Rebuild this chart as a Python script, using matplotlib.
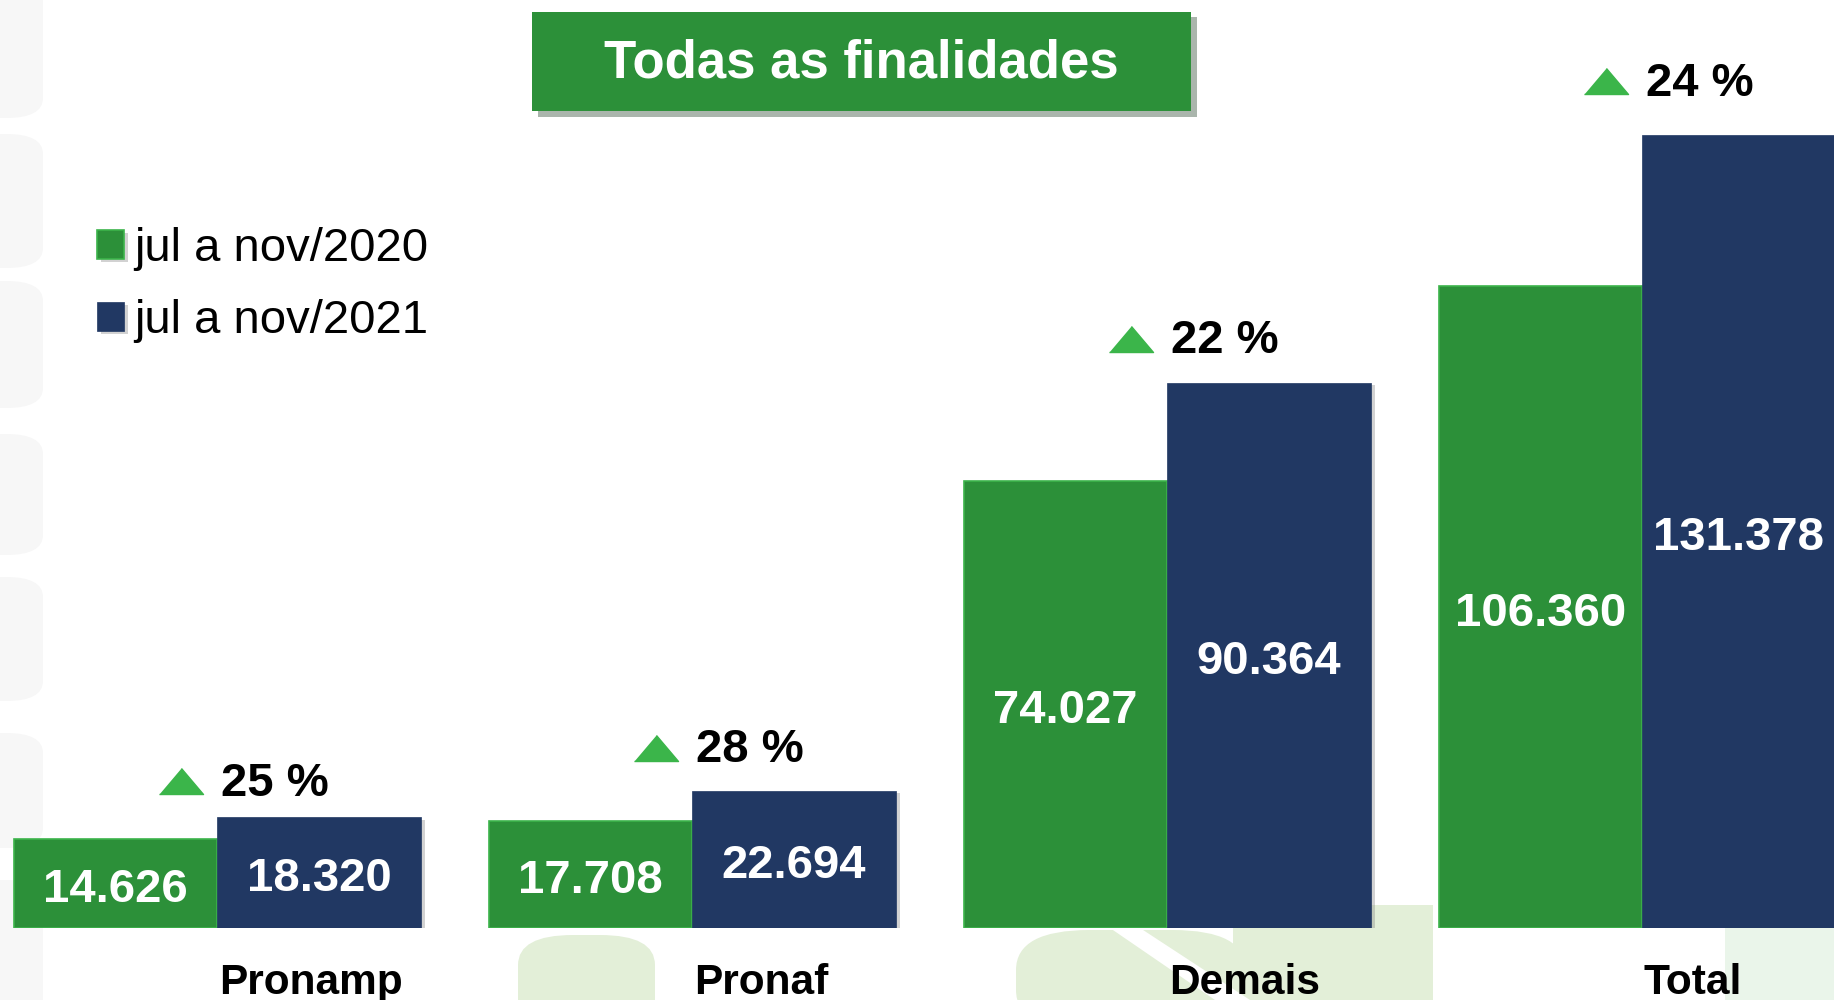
import matplotlib

matplotlib.use("Agg")
import matplotlib.pyplot as plt
import matplotlib.patheffects as pe
import matplotlib.transforms as mtransforms
from matplotlib.patches import FancyBboxPatch, Rectangle, Polygon
import numpy as np

# data (thousands, values as printed on the slide)
categories = ["Pronamp", "Pronaf", "Demais", "Total"]
series_names = ["jul a nov/2020", "jul a nov/2021"]
values_2020 = [14626, 17708, 74027, 106360]
values_2021 = [18320, 22694, 90364, 131378]
growth_pct = [25, 28, 22, 24]

# layout: how far (px) each growth label sits above its 2021 bar
growth_lift_px = [36, 43, 44, 54]

GREEN = "#2c9039"
GREEN_EDGE = "#3cb44b"
BLUE = "#213863"
TRI_GREEN = "#3bb54a"
FONT = ["Liberation Sans", "DejaVu Sans"]

W, H = 1834, 1000
fig = plt.figure(figsize=(W / 100, H / 100), dpi=100)
fig.patch.set_facecolor("white")


def fx(px):
    return px / W


def fy(py):
    # py measured from top of the image
    return 1 - py / H


# faint watermark shapes in the background
for top, bot in [(-20, 118), (134, 268), (281, 408), (434, 555),
                 (577, 701), (733, 848), (880, 1020)]:
    fig.patches.append(FancyBboxPatch(
        (fx(-40), fy(bot)), fx(83), (bot - top) / H,
        boxstyle="round,pad=0,rounding_size=0.02", transform=fig.transFigure,
        facecolor="#f7f7f7", edgecolor="none", zorder=-5))
leaf = "#e3efd8"
fig.patches.append(FancyBboxPatch(
    (fx(518), fy(1030)), fx(137), 95 / H,
    boxstyle="round,pad=0,rounding_size=0.03", transform=fig.transFigure,
    facecolor=leaf, edgecolor="none", zorder=-5))
fig.patches.append(Rectangle((fx(1233), fy(1000)), fx(200), 95 / H,
                             transform=fig.transFigure, facecolor=leaf,
                             edgecolor="none", zorder=-5))
fig.patches.append(FancyBboxPatch(
    (fx(1016), fy(1030)), fx(230), 100 / H,
    boxstyle="round,pad=0,rounding_size=0.04", transform=fig.transFigure,
    facecolor=leaf, edgecolor="none", zorder=-5))
fig.patches.append(Polygon([(fx(1110), fy(928)), (fx(1140), fy(928)),
                            (fx(1250), fy(1000)), (fx(1215), fy(1000))],
                           closed=True, transform=fig.transFigure,
                           facecolor="white", edgecolor="none", zorder=-4))
fig.patches.append(Rectangle((fx(1725), fy(1000)), fx(110), 75 / H,
                             transform=fig.transFigure, facecolor="#eaf5ea",
                             edgecolor="none", zorder=-5))

# main axes: bottom edge sits on the bar baseline
ax = fig.add_axes([0, fy(927.5), 1, 927.5 / H])
ax.patch.set_visible(False)
for s in ax.spines.values():
    s.set_visible(False)
ax.set_xticks([])
ax.set_yticks([])

x = np.arange(len(categories))
width = 0.4285
ax.set_xlim(-0.458, 3.404)
ax.set_ylim(0, 153800)

shadow = [pe.SimplePatchShadow(offset=(3, -2), shadow_rgbFace="#808080", alpha=0.35), pe.Normal()]
bars20 = ax.bar(x - width / 2, values_2020, width, color=GREEN,
                edgecolor=GREEN_EDGE, linewidth=1.2, label=series_names[0])
bars21 = ax.bar(x + width / 2, values_2021, width, color=BLUE,
                edgecolor=BLUE, linewidth=0.5, label=series_names[1])
for b in list(bars20) + list(bars21):
    b.set_path_effects(shadow)
for b in bars20:
    b.set_zorder(2)
for b in bars21:
    b.set_zorder(3)


def fmt_br(v):
    return f"{v:,}".replace(",", ".")


for bars, vals in [(bars20, values_2020), (bars21, values_2021)]:
    ax.bar_label(bars, labels=[fmt_br(v) for v in vals], label_type="center",
                 padding=-5, color="white", fontsize=34, fontweight="bold",
                 family=FONT, zorder=6)

# growth labels above the 2021 bars
tri = [(-22, -13), (22, -13), (0, 13)]
for xi, v, g, lift in zip(x, values_2021, growth_pct, growth_lift_px):
    ax.annotate(f"{g} %", (xi, v), xytext=(4 * 0.72, (lift - 2.5) * 0.72),
                textcoords="offset points", ha="left", va="center",
                fontsize=34, fontweight="bold", family=FONT, color="black",
                annotation_clip=False)
    shift = mtransforms.ScaledTranslation(-36 / 100, lift / 100, fig.dpi_scale_trans)
    ax.plot([xi], [v], marker=tri, markersize=31.7, color=TRI_GREEN,
            linestyle="none", clip_on=False, transform=ax.transData + shift)

# category names, left aligned at the group centre
for xi, name in zip(x, categories):
    ax.text(xi + 0.003, -66 / 0.00603, name, ha="left", va="baseline",
            fontsize=30.5, fontweight="bold", family=FONT, color="black",
            clip_on=False)

leg = ax.legend(loc="upper left", bbox_to_anchor=(fx(97), fy(227)),
                bbox_transform=fig.transFigure, frameon=False,
                prop={"family": FONT, "size": 34}, handlelength=0.57,
                handleheight=0.57, handletextpad=0.22, labelspacing=0.6,
                borderpad=0, borderaxespad=0)

# title box
fig.patches.append(Rectangle((fx(532), fy(111)), fx(659), 99.3 / H,
                             transform=fig.transFigure, facecolor=GREEN,
                             edgecolor="none", zorder=5,
                             path_effects=[pe.SimplePatchShadow(offset=(4, -4), alpha=0.35),
                                           pe.Normal()]))
fig.text(fx(861), fy(63), "Todas as finalidades", ha="center", va="center",
         fontsize=38, fontweight="bold", family=FONT, color="white", zorder=6)

fig.savefig("out.png", dpi=100)
